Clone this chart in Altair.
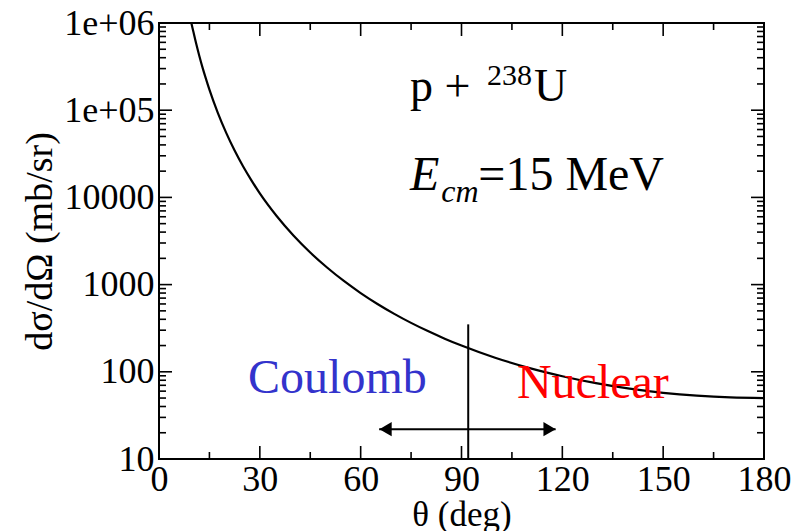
import altair as alt
import pandas as pd

# ---- data ----
theta = [9.5, 10, 11, 12, 13, 14, 15, 17.5, 20, 22.5, 25, 27.5, 30, 35, 40, 45, 50, 55,
         60, 65, 70, 75, 80, 85, 90, 100, 110, 120, 130, 140, 150, 160, 170, 180]
sigma = [1050000, 866000, 592000, 419000, 304000, 227000, 172000, 93400, 55000, 34500,
         22800, 15700, 11100, 6110, 3650, 2330, 1570, 1100, 800, 600, 462, 364, 293, 240,
         200, 145, 111, 89, 74, 64, 57.4, 53.2, 50.8, 50]

x_major = [0, 30, 60, 90, 120, 150, 180]
x_minor = [15, 45, 75, 105, 135, 165]
y_major = [10, 100, 1000, 10000, 100000, 1000000]
y_minor = [m * 10 ** k for k in range(1, 6) for m in range(2, 10)]

divider_theta = [92, 92]
divider_sigma = [10, 350]
arrow_theta = [65.5, 118]
arrow_sigma = [22, 22]
head_theta = [67.4, 116.2]

W, H = 605, 436
FONT = "Liberation Serif"

xs = alt.Scale(domain=[0, 180], nice=False, zero=False)
ys = alt.Scale(type="log", domain=[10, 1000000], nice=False)

curve_df = pd.DataFrame({"theta": theta, "sigma": sigma})

curve = alt.Chart(curve_df).mark_line(
    color="black", strokeWidth=2.2, clip=True, interpolate="monotone"
).encode(
    x=alt.X("theta:Q", scale=xs,
            axis=alt.Axis(values=x_major, labelPadding=3, labelFlush=False,
                          title="θ (deg)", titlePadding=0)),
    y=alt.Y("sigma:Q", scale=ys,
            axis=alt.Axis(values=y_major,
                          labelExpr="datum.value >= 100000 ? (datum.value >= 1000000 ? '1e+06' : '1e+05') : format(datum.value, 'd')",
                          labelPadding=5, labelFlush=False,
                          title="dσ/dΩ (mb/sr)", titlePadding=4, titleFontSize=38)),
)

def xticks(vals, y0, y1):
    return alt.Chart(pd.DataFrame({"theta": vals})).mark_rule(color="black", strokeWidth=1.6).encode(
        x=alt.X("theta:Q", scale=xs), y=alt.value(y0), y2=alt.value(y1))

def yticks(vals, x0, x1):
    return alt.Chart(pd.DataFrame({"sigma": vals})).mark_rule(color="black", strokeWidth=1.6).encode(
        y=alt.Y("sigma:Q", scale=ys), x=alt.value(x0), x2=alt.value(x1))

ticks = [
    xticks(x_major, H, H - 13), xticks(x_minor, H, H - 7),
    xticks(x_major, 0, 13), xticks(x_minor, 0, 7),
    yticks(y_major, 0, 13), yticks(y_minor, 0, 7),
    yticks(y_major, W, W - 13), yticks(y_minor, W, W - 7),
]

divider = alt.Chart(pd.DataFrame({"theta": divider_theta, "sigma": divider_sigma})).mark_line(
    color="black", strokeWidth=2).encode(
    x=alt.X("theta:Q", scale=xs), y=alt.Y("sigma:Q", scale=ys))

arrow = alt.Chart(pd.DataFrame({"theta": arrow_theta, "sigma": arrow_sigma})).mark_line(
    color="black", strokeWidth=2).encode(
    x=alt.X("theta:Q", scale=xs), y=alt.Y("sigma:Q", scale=ys))

heads_df = pd.DataFrame({"theta": head_theta, "sigma": arrow_sigma, "d": ["l", "r"]})
heads = alt.Chart(heads_df).mark_point(filled=True, opacity=1, color="black", size=200).encode(
    x=alt.X("theta:Q", scale=xs), y=alt.Y("sigma:Q", scale=ys),
    shape=alt.Shape("d:N", scale=alt.Scale(domain=["l", "r"], range=["triangle-left", "triangle-right"]), legend=None))

# annotation texts (positions in data coordinates)
ann_text = ["p + ", "238", "U", "E", "cm", "=15 MeV", "Coulomb", "Nuclear"]
ann_theta = [74.7, 97.6, 111.6, 74.7, 84.0, 95.0, 26.5, 106.5]
ann_sigma = [128000, 194000, 128000, 12200, 8850, 12200, 57, 50]
ann_size = [46, 30, 46, 48, 32, 48, 48, 48]
ann_style = ["normal", "normal", "normal", "italic", "italic", "normal", "normal", "normal"]
ann_color = ["black", "black", "black", "black", "black", "black", "#3333cc", "#ff0000"]

texts = []
for i in range(len(ann_text)):
    df = pd.DataFrame({"theta": [ann_theta[i]], "sigma": [ann_sigma[i]], "txt": [ann_text[i]]})
    texts.append(alt.Chart(df).mark_text(
        align="left", baseline="alphabetic", font=FONT, fontSize=ann_size[i],
        fontStyle=ann_style[i], color=ann_color[i]).encode(
        x=alt.X("theta:Q", scale=xs), y=alt.Y("sigma:Q", scale=ys), text="txt:N"))

chart = alt.layer(curve, *ticks, divider, arrow, heads, *texts).properties(
    width=W, height=H,
    background="white",
    autosize=alt.AutoSizeParams(type="none"),
    padding={"left": 159, "top": 23, "right": 36, "bottom": 72},
).configure_view(stroke="black", strokeWidth=2).configure_axis(
    ticks=False, domain=False, grid=False,
    labelFont=FONT, labelFontSize=36, labelColor="black",
    titleFont=FONT, titleFontSize=35, titleFontWeight="normal", titleColor="black",
)

chart.save("out.html", embed_options={"renderer": "svg", "actions": False})
